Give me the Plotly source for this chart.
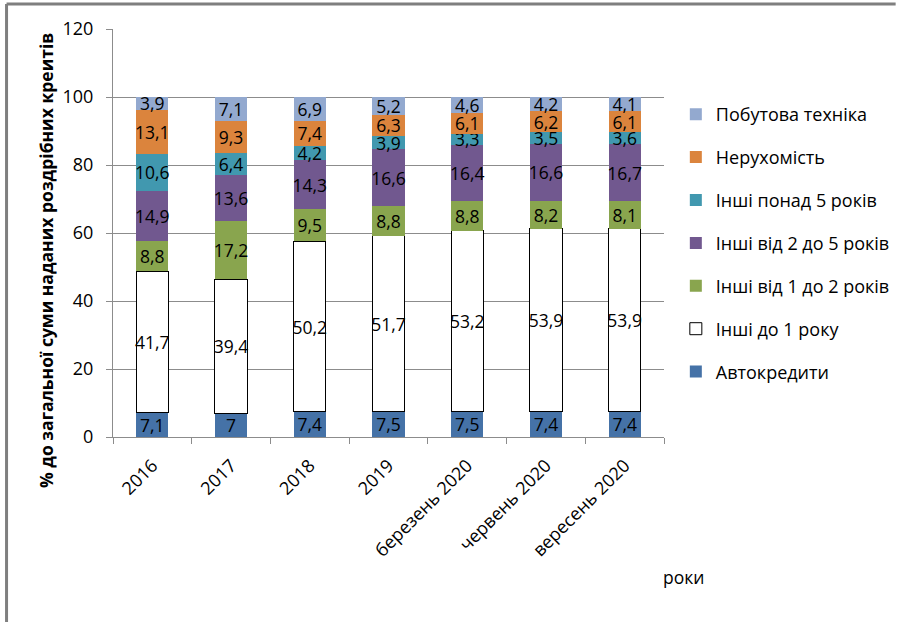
import plotly.graph_objects as go

categories = ["2016", "2017", "2018", "2019", "березень 2020", "червень 2020", "вересень 2020"]

series_names = ["Автокредити", "Інші до 1 року", "Інші від 1 до 2 років", "Інші від 2 до 5 років",
                "Інші понад 5 років", "Нерухомість", "Побутова техніка"]

avto = [7.1, 7, 7.4, 7.5, 7.5, 7.4, 7.4]
do1 = [41.7, 39.4, 50.2, 51.7, 53.2, 53.9, 53.9]
vid1do2 = [8.8, 17.2, 9.5, 8.8, 8.8, 8.2, 8.1]
vid2do5 = [14.9, 13.6, 14.3, 16.6, 16.4, 16.6, 16.7]
ponad5 = [10.6, 6.4, 4.2, 3.9, 3.3, 3.5, 3.6]
neruh = [13.1, 9.3, 7.4, 6.3, 6.1, 6.2, 6.1]
pobut = [3.9, 7.1, 6.9, 5.2, 4.6, 4.2, 4.1]

values = [avto, do1, vid1do2, vid2do5, ponad5, neruh, pobut]
colors = ["#4572A7", "#FFFFFF", "#89A54E", "#71588F", "#4198AF", "#DB843D", "#93A9CF"]

FONT = "Open Sans"
LBL = 17.5

fig = go.Figure()
n = len(series_names)
for i, (name, vals, col) in enumerate(zip(series_names, values, colors)):
    line = dict(color="#000000", width=1) if col == "#FFFFFF" else dict(width=0)
    fig.add_trace(go.Bar(
        x=categories, y=vals, name=name,
        marker=dict(color=col, line=line),
        text=[f"{v:g}".replace(".", ",") for v in vals],
        textposition="inside", insidetextanchor="middle", textangle=0,
        insidetextfont=dict(color="#000000", size=LBL, family=FONT),
        constraintext="none",
        legendgroup=f"g{i}", legendrank=n - i,
    ))

W0, H0 = 559, 408
def px_x(x): return (x - 113) / W0
def px_y(y): return (437 - y) / H0

fig.update_layout(
    width=907, height=622,
    barmode="stack", bargap=0.59,
    plot_bgcolor="white", paper_bgcolor="white",
    margin=dict(l=113, r=235, t=29, b=185),
    font=dict(family=FONT, color="#000000"),
    uniformtext=dict(minsize=LBL, mode="show"),
    showlegend=True,
    legend=dict(x=px_x(684), y=px_y(96), xanchor="left", yanchor="top",
                traceorder="grouped", tracegroupgap=16.5,
                font=dict(size=18, family=FONT, color="#000000"),
                bgcolor="rgba(0,0,0,0)"),
    xaxis=dict(showline=True, linecolor="#8c8c8c", linewidth=1,
               ticks="outside", tickson="boundaries", ticklen=6, tickcolor="#8c8c8c",
               tickangle=-45, ticklabelstandoff=10,
               tickfont=dict(size=18, family=FONT, color="#000000")),
    yaxis=dict(range=[0, 120], dtick=20, showgrid=True, gridcolor="#8c8c8c", gridwidth=1,
               showline=True, linecolor="#8c8c8c", linewidth=1,
               ticks="outside", ticklen=6, tickcolor="#8c8c8c", ticklabelstandoff=9,
               tickfont=dict(size=18, family=FONT, color="#000000"), zeroline=False),
    annotations=[
        dict(text="<b>% до загальної суми наданих роздрібних креитів</b>", xref="paper", yref="paper",
             x=px_x(45), y=px_y(260), textangle=-90, showarrow=False,
             xanchor="center", yanchor="middle", font=dict(size=17.5, family=FONT, color="#000000")),
        dict(text="роки", xref="paper", yref="paper", x=px_x(669), y=px_y(577),
             showarrow=False, xanchor="left", yanchor="middle",
             font=dict(size=17.5, family=FONT, color="#000000")),
    ],
    shapes=[
        dict(type="line", xref="paper", yref="paper", x0=px_x(5), x1=px_x(907), y0=px_y(4), y1=px_y(4),
             line=dict(color="#7f7f7f", width=3)),
        dict(type="line", xref="paper", yref="paper", x0=px_x(5), x1=px_x(5), y0=px_y(4), y1=px_y(622),
             line=dict(color="#7f7f7f", width=3)),
    ],
)

fig.write_html("out.html", config={"displayModeBar": False},
               post_script="document.body.style.margin='0';document.body.style.overflow='hidden';")
